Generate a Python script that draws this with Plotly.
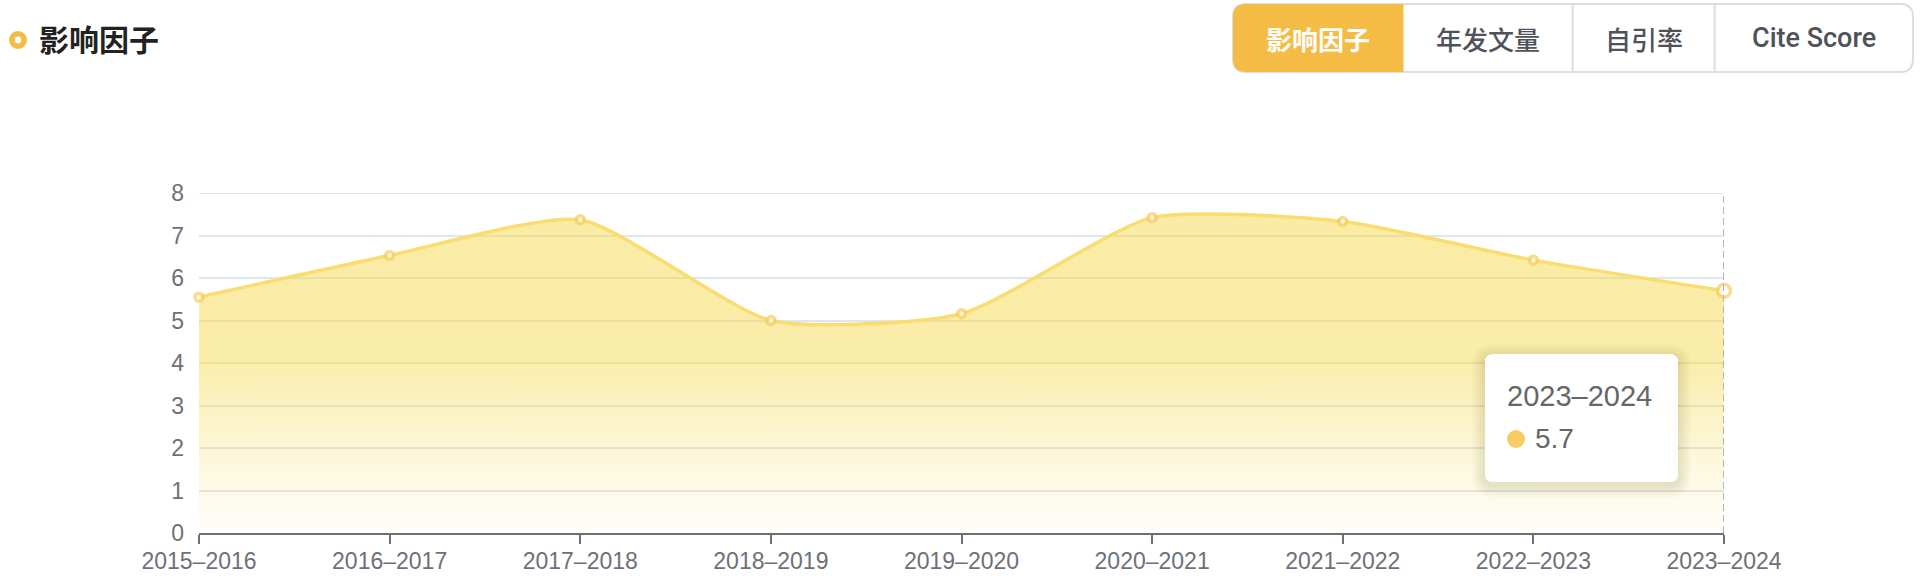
import plotly.graph_objects as go

# ---------------- data ----------------
categories = ["2015–2016", "2016–2017", "2017–2018", "2018–2019", "2019–2020",
              "2020–2021", "2021–2022", "2022–2023", "2023–2024"]
impact_factor = [5.55, 6.53, 7.37, 5.00, 5.16, 7.42, 7.33, 6.42, 5.7]
y_ticks = [0, 1, 2, 3, 4, 5, 6, 7, 8]
title_text = "影响因子"
tab_labels = ["影响因子", "年发文量", "自引率", "Cite Score"]

# ---------------- geometry helpers (layout only) ----------------
W, H = 1922, 576
ML, MR, MT, MB = 199, 198, 193, 43
PW, PH = W - ML - MR, H - MT - MB


def px(x):
    return (x - ML) / PW


def py(y):
    return (H - MB - y) / PH


def rrect(x0, y0, x1, y1, r, left=True, right=True):
    rl = r if left else 0
    rr = r if right else 0
    pts = []
    pts.append(f"M {px(x0 + rl)},{py(y0)}")
    pts.append(f"L {px(x1 - rr)},{py(y0)}")
    if rr:
        pts.append(f"Q {px(x1)},{py(y0)} {px(x1)},{py(y0 + rr)}")
    pts.append(f"L {px(x1)},{py(y1 - rr)}")
    if rr:
        pts.append(f"Q {px(x1)},{py(y1)} {px(x1 - rr)},{py(y1)}")
    pts.append(f"L {px(x0 + rl)},{py(y1)}")
    if rl:
        pts.append(f"Q {px(x0)},{py(y1)} {px(x0)},{py(y1 - rl)}")
    pts.append(f"L {px(x0)},{py(y0 + rl)}")
    if rl:
        pts.append(f"Q {px(x0)},{py(y0)} {px(x0 + rl)},{py(y0)}")
    pts.append("Z")
    return " ".join(pts)


LATIN = "Liberation Sans, Arial, Noto Sans CJK SC, sans-serif"
CJK = "Noto Sans CJK SC, Liberation Sans, sans-serif"
AXIS_COL = "#6E7079"
GRID_COL = "#E0E6F1"
ACCENT = "#f4bc44"

n = len(categories)
xs = list(range(n))
ymax = max(impact_factor)

fig = go.Figure()
fig.add_trace(go.Scatter(
    x=xs, y=impact_factor,
    mode="lines+markers",
    line=dict(color="#f9dd70", width=3.5, shape="spline", smoothing=0.6),
    fill="tozeroy",
    fillgradient=dict(
        type="vertical", start=0, stop=ymax,
        colorscale=[[0, "rgba(245,215,66,0.03)"],
                    [0.25, "rgba(245,215,66,0.2)"],
                    [0.55, "rgba(245,215,66,0.45)"],
                    [1, "rgba(245,215,66,0.48)"]],
    ),
    marker=dict(symbol="circle", color="white",
                size=[8] * (n - 1) + [13],
                line=dict(color="#f6cd62", width=[3.5] * (n - 1) + [3.5])),
    hoverinfo="skip",
    cliponaxis=False,
))

shapes = []
annotations = []

# top gridline (axis max) drawn explicitly so it is not clipped at the plot edge
shapes.append(dict(type="line", xref="paper", yref="y", x0=0, x1=1, y0=y_ticks[-1], y1=y_ticks[-1],
                   line=dict(color=GRID_COL, width=2), layer="below"))

# axis pointer (dashed)
shapes.append(dict(type="line", xref="x", yref="paper", x0=xs[-1], x1=xs[-1], y0=0, y1=1,
                   line=dict(color="#a9adc0", width=1.8, dash="7px,4px"), layer="above"))

# tooltip shadow + box
tx0, ty0, tx1, ty1 = 1485, 354, 1678, 482
for i in range(1, 9):
    e = i * 1.6
    shapes.append(dict(type="path", xref="paper", yref="paper",
                       path=rrect(tx0 - e, ty0 - e + 3, tx1 + e, ty1 + e + 3, 8 + e),
                       fillcolor="rgba(60,50,20,0.016)", line=dict(width=0), layer="above"))
shapes.append(dict(type="path", xref="paper", yref="paper",
                   path=rrect(tx0, ty0, tx1, ty1, 8),
                   fillcolor="white", line=dict(width=0), layer="above"))
# tooltip marker dot
shapes.append(dict(type="circle", xref="paper", yref="paper",
                   x0=px(1507), x1=px(1525), y0=py(448), y1=py(430),
                   fillcolor="#f6cd62", line=dict(width=0), layer="above"))
annotations.append(dict(xref="paper", yref="paper", x=px(1505), y=py(396),
                        xanchor="left", yanchor="middle", showarrow=False,
                        text=categories[-1], font=dict(family=LATIN, size=29, color="#666666")))
annotations.append(dict(xref="paper", yref="paper", x=px(1533), y=py(438),
                        xanchor="left", yanchor="middle", showarrow=False,
                        text=f"{impact_factor[-1]}", font=dict(family=LATIN, size=28, color="#666666")))

# title with ring icon
shapes.append(dict(type="circle", xref="paper", yref="paper",
                   x0=px(9), x1=px(27), y0=py(49), y1=py(31),
                   fillcolor=ACCENT, line=dict(width=0)))
shapes.append(dict(type="circle", xref="paper", yref="paper",
                   x0=px(14.6), x1=px(21.4), y0=py(43.4), y1=py(36.6),
                   fillcolor="white", line=dict(width=0)))
annotations.append(dict(xref="paper", yref="paper", x=px(37), y=py(38),
                        xanchor="left", yanchor="middle", showarrow=False,
                        text=f"<b>{title_text}</b>",
                        font=dict(family=CJK, size=30, color="#222222")))

# tab buttons
bounds = [1233, 1403.5, 1572.7, 1714.6, 1913]
by0, by1 = 4, 72
shapes.append(dict(type="path", xref="paper", yref="paper",
                   path=rrect(bounds[0], by0, bounds[-1], by1, 13),
                   fillcolor="white", line=dict(color="#dcdee4", width=2)))
shapes.append(dict(type="path", xref="paper", yref="paper",
                   path=rrect(bounds[0], by0, bounds[1], by1, 13, left=True, right=False),
                   fillcolor=ACCENT, line=dict(width=0)))
for b in bounds[2:-1]:
    shapes.append(dict(type="line", xref="paper", yref="paper",
                       x0=px(b), x1=px(b), y0=py(by0 + 1), y1=py(by1 - 1),
                       line=dict(color="#dcdee4", width=2)))
for i, lab in enumerate(tab_labels):
    cx = (bounds[i] + bounds[i + 1]) / 2
    active = i == 0
    fam = CJK if i < 3 else "Roboto, Liberation Sans, sans-serif"
    annotations.append(dict(xref="paper", yref="paper", x=px(cx), y=py(38),
                            xanchor="center", yanchor="middle", showarrow=False,
                            text=f"<b>{lab}</b>" if active else lab,
                            font=dict(family=fam, size=26 if i < 3 else 27,
                                      color="white" if active else "#505259",
                                      weight=700 if active else 500)))

fig.update_layout(
    template="none",
    width=W, height=H,
    margin=dict(l=ML, r=MR, t=MT, b=MB, pad=0, autoexpand=False),
    paper_bgcolor="white", plot_bgcolor="white",
    showlegend=False, hovermode=False,
    shapes=shapes, annotations=annotations,
    xaxis=dict(range=[0, n - 1], tickmode="array", tickvals=xs, ticktext=categories,
               showgrid=False, zeroline=False, showline=True, linecolor=AXIS_COL, linewidth=2,
               ticks="outside", ticklen=9, tickwidth=2, tickcolor=AXIS_COL,
               tickfont=dict(family=LATIN, size=23, color=AXIS_COL), ticklabelstandoff=-3,
               automargin=False, fixedrange=True),
    yaxis=dict(range=[0, 8], tickmode="array", tickvals=y_ticks,
               showgrid=True, gridcolor=GRID_COL, gridwidth=1.5, zeroline=False,
               showline=False, ticks="",
               tickfont=dict(family=LATIN, size=23, color=AXIS_COL), ticklabelstandoff=14,
               automargin=False, fixedrange=True),
)

fig.write_html("out.html", config={"displayModeBar": False},
               post_script="document.body.style.margin='0px';document.body.style.overflow='hidden';")
